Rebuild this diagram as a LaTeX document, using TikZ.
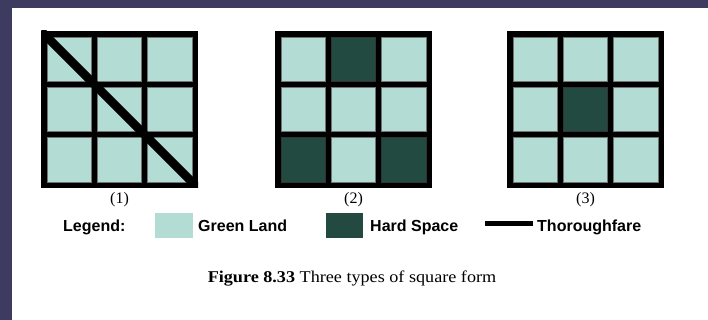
\documentclass[tikz,border=0pt]{standalone}
\usepackage{fontspec}
\setmainfont{Liberation Serif}
\setsansfont{Liberation Sans}
\usepackage{graphicx}
\definecolor{greenland}{HTML}{B3DDD4}
\definecolor{hardspace}{HTML}{234A40}
\definecolor{slidebg}{HTML}{3D3C60}
\begin{document}
\begin{tikzpicture}[x=1pt,y=-1pt, line join=miter]
	\def\cw{44.33} \def\gw{6} \def\side{157} \def\top{31}
	\tikzset{every node/.style={inner sep=0pt},
		cell/.style={fill=greenland, draw=black!55, line width=0.4pt},
		hard/.style={fill=hardspace, draw=black!80, line width=0.4pt},
		lgd/.style={font=\sffamily\bfseries\fontsize{16}{18}\selectfont, anchor=base west},
		num/.style={font=\fontsize{16}{18}\selectfont, anchor=base}}
	% slide background and white panel
	\fill[slidebg] (0,0) rectangle (708,320);
	\fill[white] (12,8) rectangle (708,320);
	% the three squares
	\foreach \x/\n in {41/1,275/2,507/3}{
		\fill[black] (\x,\top) rectangle ++(\side,\side);
		\foreach \i in {0,1,2}
		\foreach \j in {0,1,2}
		\draw[cell] ({\x+\gw+\i*(\cw+\gw)},{\top+\gw+\j*(\cw+\gw)}) rectangle ++(\cw,\cw);
		\node[num] (lab\n) at ({\x+\side/2},204) {(\n)};
	}
	% hard space cells
	\foreach \x/\i/\j in {275/1/0, 275/0/2, 275/2/2, 507/1/1}
		\draw[hard] ({\x+\gw+\i*(\cw+\gw)},{\top+\gw+\j*(\cw+\gw)}) rectangle ++(\cw,\cw);
	% thoroughfare across square (1)
	\begin{scope}
		\clip (41,\top) rectangle ++(\side,\side);
		\draw[line width=8.5pt] (41,\top) -- ++(\side,\side);
	\end{scope}
	% legend
	\node[lgd] (legend) at (63,231.5) {Legend:};
	\node[fill=greenland, minimum width=38, minimum height=24.5, anchor=north west] (swgreen) at (155,213) {};
	\node[lgd] (tgreen) at (198,231.5) {Green Land};
	\node[fill=hardspace, minimum width=37, minimum height=24.5, anchor=north west] (swhard) at (326,213) {};
	\node[lgd] (thard) at (370,231.5) {Hard Space};
	\node[lgd] (troad) at (537,231.5) {Thoroughfare};
	\coordinate (road) at (485,223.5);
	\draw[line width=5.5pt, shorten >=4pt] (road) -- (road -| troad.west);
	% caption
	\node[font=\fontsize{16.5}{18}\selectfont, anchor=base] (caption) at (352,282)
		{\scalebox{1.1}[1]{\textbf{Figure 8.33} Three types of square form}};
\end{tikzpicture}
\end{document}
